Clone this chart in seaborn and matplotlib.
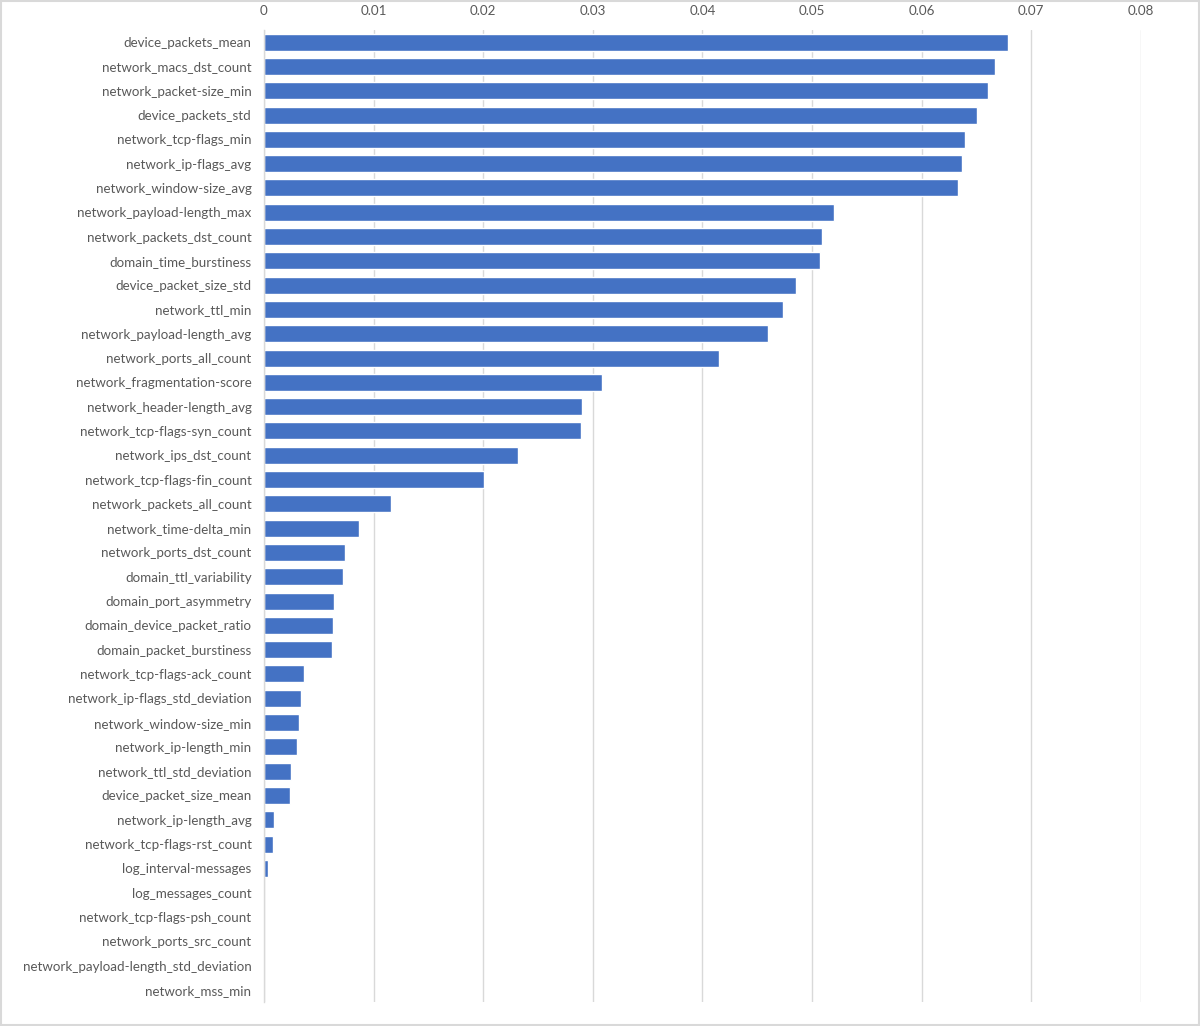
import matplotlib
matplotlib.use("Agg")
import matplotlib.pyplot as plt
import seaborn as sns
import pandas as pd
from matplotlib.patches import Rectangle
from matplotlib.ticker import FuncFormatter

features = [
    "device_packets_mean", "network_macs_dst_count", "network_packet-size_min",
    "device_packets_std", "network_tcp-flags_min", "network_ip-flags_avg",
    "network_window-size_avg", "network_payload-length_max", "network_packets_dst_count",
    "domain_time_burstiness", "device_packet_size_std", "network_ttl_min",
    "network_payload-length_avg", "network_ports_all_count", "network_fragmentation-score",
    "network_header-length_avg", "network_tcp-flags-syn_count", "network_ips_dst_count",
    "network_tcp-flags-fin_count", "network_packets_all_count", "network_time-delta_min",
    "network_ports_dst_count", "domain_ttl_variability", "domain_port_asymmetry",
    "domain_device_packet_ratio", "domain_packet_burstiness", "network_tcp-flags-ack_count",
    "network_ip-flags_std_deviation", "network_window-size_min", "network_ip-length_min",
    "network_ttl_std_deviation", "device_packet_size_mean", "network_ip-length_avg",
    "network_tcp-flags-rst_count", "log_interval-messages", "log_messages_count",
    "network_tcp-flags-psh_count", "network_ports_src_count",
    "network_payload-length_std_deviation", "network_mss_min",
]
importance = [
    0.0679, 0.0667, 0.0661, 0.0651, 0.0640, 0.0637, 0.0633, 0.0520, 0.0509, 0.0507,
    0.0485, 0.0474, 0.0460, 0.0415, 0.0308, 0.0290, 0.0289, 0.0232, 0.0201, 0.0116,
    0.0087, 0.0074, 0.0072, 0.0064, 0.0063, 0.0062, 0.00365, 0.0034, 0.0032, 0.0030,
    0.0025, 0.0024, 0.0009, 0.00086, 0.00037, 0.0, 0.0, 0.0, 0.0, 0.0,
]
x_ticks = [0, 0.01, 0.02, 0.03, 0.04, 0.05, 0.06, 0.07, 0.08]

sns.set_theme(style="white")
plt.rcParams["font.family"] = ["Lato", "DejaVu Sans"]

BAR = "#4472C4"
GRID = "#D9D9D9"
TEXT = "#595959"

df = pd.DataFrame({"feature": features, "importance": importance})

fig = plt.figure(figsize=(12, 10.26), dpi=100)
ax = fig.add_axes([0.22, 0.0234, 0.7306, 0.9474])

sns.barplot(data=df, x="importance", y="feature", orient="h", color=BAR,
            width=0.7, saturation=1, ax=ax)

ax.set_xlim(0, 0.08)
ax.set_xticks(x_ticks)
ax.xaxis.set_major_formatter(FuncFormatter(lambda v, _: f"{v:g}"))
ax.xaxis.tick_top()
ax.tick_params(axis="x", length=0, pad=9.5, labelsize=9.6, labelcolor=TEXT)
ax.tick_params(axis="y", length=0, pad=9, labelsize=9.6, labelcolor=TEXT)
ax.set_xlabel("")
ax.set_ylabel("")
ax.grid(axis="x", color=GRID, linewidth=1)
ax.set_axisbelow(True)
for side in ["top", "right", "bottom"]:
    ax.spines[side].set_visible(False)
ax.spines["left"].set_color(GRID)
ax.spines["left"].set_linewidth(1)

# light border round the whole chart area, as in the source
fig.patches.append(Rectangle((0.001, 0.001), 0.998, 0.998, transform=fig.transFigure,
                             fill=False, edgecolor=GRID, linewidth=1.5))

fig.savefig("out.png", dpi=100)
